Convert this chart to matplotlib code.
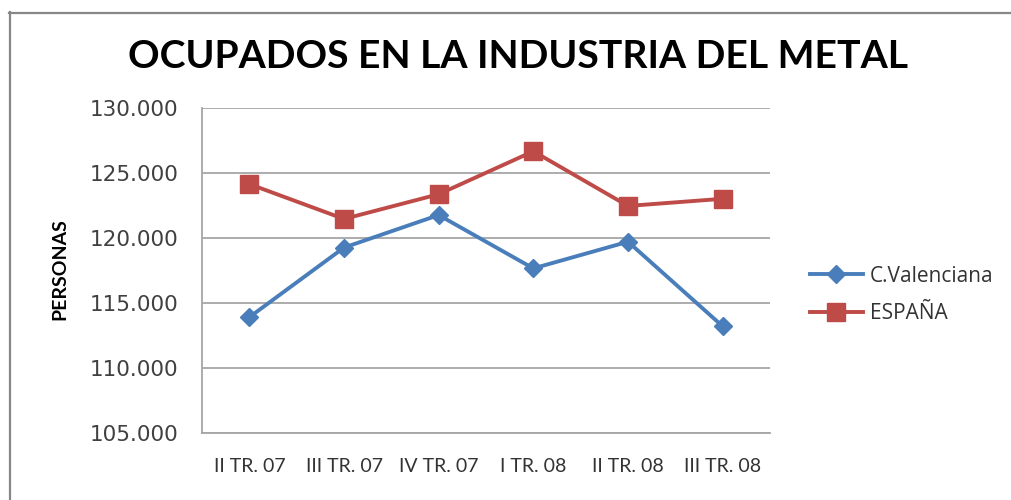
import matplotlib
matplotlib.use("Agg")
import matplotlib.pyplot as plt
from matplotlib.lines import Line2D
from matplotlib.ticker import FuncFormatter

categories = ["II TR. 07", "III TR. 07", "IV TR. 07", "I TR. 08", "II TR. 08", "III TR. 08"]
valenciana = [113900, 119250, 121750, 117650, 119700, 113200]
espana = [124130, 121450, 123350, 126650, 122450, 123000]
yticks = [105000, 110000, 115000, 120000, 125000, 130000]

W, H = 1011, 500
fig = plt.figure(figsize=(W / 100, H / 100), dpi=100)
fig.patch.set_facecolor("white")

# outer chart frame (cut off at right and bottom)
fig.add_artist(Line2D([9.5 / W, 9.5 / W], [1 - 12 / H, 0], transform=fig.transFigure,
                      color="#878787", lw=1.6))
fig.add_artist(Line2D([8.7 / W, 1], [1 - 12.5 / H, 1 - 12.5 / H], transform=fig.transFigure,
                      color="#878787", lw=1.6))

ax = fig.add_axes([202 / W, 1 - 433 / H, (770 - 202) / W, (433 - 107.7) / H])
x = list(range(len(categories)))
ax.plot(x, valenciana, color="#4a7ebb", lw=2.8, marker="D", markersize=9,
        label="C.Valenciana", zorder=3)
ax.plot(x, espana, color="#be4b48", lw=2.8, marker="s", markersize=13.5,
        label="ESPAÑA", zorder=3)

ax.set_xlim(-0.5, len(categories) - 0.5)
ax.set_ylim(105000, 130000)
ax.set_yticks(yticks)
ax.yaxis.set_major_formatter(FuncFormatter(lambda v, p: f"{int(v):,}".replace(",", ".")))
ax.set_xticks(x)
ax.set_xticklabels(categories, fontfamily="Lato", fontsize=14, color="#333333")
for lab in ax.get_yticklabels():
    lab.set_fontfamily("DejaVu Sans")
    lab.set_fontsize(15.5)
    lab.set_color("#404040")
ax.tick_params(axis="both", length=0)
ax.tick_params(axis="y", pad=17)
ax.tick_params(axis="x", pad=18)
ax.grid(axis="y", color="#a6a6a6", lw=1.3)
ax.set_axisbelow(True)
for s in ["top", "right"]:
    ax.spines[s].set_visible(False)
for s in ["left", "bottom"]:
    ax.spines[s].set_color("#a6a6a6")
    ax.spines[s].set_linewidth(1.3)

fig.text(60 / W, 1 - 269 / H, "PERSONAS", rotation=90, ha="center", va="center",
         fontsize=14, fontweight="bold", fontfamily="Lato", color="black")

fig.text(518 / W, 1 - 57 / H, "OCUPADOS EN LA INDUSTRIA DEL METAL", ha="center", va="center",
         fontsize=28.2, fontweight="bold", fontfamily="Lato", color="black")

leg = fig.legend(loc="center left", bbox_to_anchor=(800 / W, 1 - 295 / H),
                 bbox_transform=fig.transFigure, frameon=False, borderpad=0,
                 handlelength=2.5, handletextpad=0.35, labelspacing=0.8,
                 prop={"family": "Open Sans", "size": 15})
for t in leg.get_texts():
    t.set_color("#333333")

fig.savefig("out.png", dpi=100, facecolor="white")
